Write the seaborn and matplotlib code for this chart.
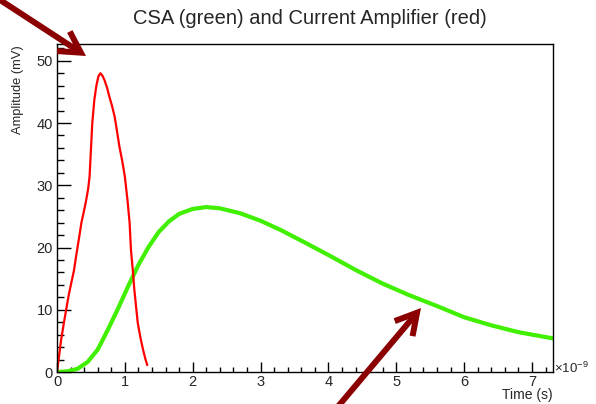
import matplotlib
matplotlib.use("Agg")
import matplotlib.pyplot as plt
from matplotlib.patches import FancyArrowPatch
from matplotlib.ticker import MultipleLocator
import seaborn as sns
import pandas as pd

# Current amplifier response (time in ns, amplitude in mV)
current_time_ns = [0, 0.03, 0.06, 0.10, 0.135, 0.17, 0.21, 0.25, 0.28, 0.32, 0.36, 0.40,
                   0.43, 0.46, 0.48, 0.50, 0.52, 0.55, 0.58, 0.61, 0.64, 0.67, 0.70,
                   0.74, 0.77, 0.81, 0.85, 0.88, 0.92, 0.96, 1.00, 1.04, 1.07, 1.09,
                   1.12, 1.14, 1.17, 1.19, 1.23, 1.27, 1.30, 1.33]
current_amp_mv = [0, 2.5, 5.1, 7.8, 10.0, 12.2, 14.3, 16.3, 18.5, 21.2, 24.0, 26.0,
                  27.6, 29.5, 31.4, 35.7, 40.0, 43.7, 46.0, 47.5, 48.0, 47.6, 46.9,
                  45.6, 44.3, 42.8, 41.0, 39.0, 36.2, 34.0, 31.4, 27.5, 24.0, 19.6,
                  16.0, 13.2, 10.0, 7.9, 5.5, 3.5, 2.2, 1.1]

# Charge-sensitive amplifier response
csa_time_ns = [0, 0.15, 0.30, 0.45, 0.60, 0.75, 0.90, 1.05, 1.20, 1.35, 1.50, 1.65,
               1.80, 2.00, 2.20, 2.40, 2.70, 3.00, 3.30, 3.60, 4.00, 4.40, 4.80,
               5.20, 5.60, 6.00, 6.40, 6.80, 7.31]
csa_amp_mv = [0, 0.1, 0.5, 1.6, 3.6, 6.8, 10.2, 13.8, 17.2, 20.1, 22.5, 24.2,
              25.4, 26.2, 26.5, 26.3, 25.5, 24.3, 22.8, 21.1, 18.8, 16.4, 14.2,
              12.3, 10.6, 8.8, 7.5, 6.4, 5.4]

title = "CSA (green) and Current Amplifier (red)"
x_label = "Time (s)"
y_label = "Amplitude (mV)"

sns.set_style("white")
plt.rcParams["font.family"] = ["Liberation Sans", "DejaVu Sans"]
plt.rcParams["mathtext.fontset"] = "custom"
plt.rcParams["mathtext.rm"] = "Liberation Sans"
plt.rcParams["mathtext.it"] = "Liberation Sans:italic"

W, H = 596, 404
fig = plt.figure(figsize=(W / 100, H / 100), dpi=100)
ax = fig.add_axes([57 / W, 1 - 372 / H, 496 / W, 328 / H])

csa = pd.DataFrame({"t": csa_time_ns, "a": csa_amp_mv})
cur = pd.DataFrame({"t": current_time_ns, "a": current_amp_mv})
sns.lineplot(data=csa, x="t", y="a", ax=ax, color="#40f000", lw=3.0, sort=False)
sns.lineplot(data=cur, x="t", y="a", ax=ax, color="#ff0000", lw=1.6, sort=False)

ax.set_xlim(0, 7.31)
ax.set_ylim(0, 52.7)
ax.set_xlabel("")
ax.set_ylabel("")

ax.xaxis.set_major_locator(MultipleLocator(1))
ax.xaxis.set_minor_locator(MultipleLocator(0.2))
ax.yaxis.set_major_locator(MultipleLocator(10))
ax.yaxis.set_minor_locator(MultipleLocator(2))
ax.tick_params(axis="x", which="major", direction="in", length=7.5, width=1,
               labelsize=10.5, pad=2, bottom=True, top=False, color="black")
ax.tick_params(axis="x", which="minor", direction="in", length=3.8, width=1,
               bottom=True, top=False, color="black")
ax.tick_params(axis="y", which="major", direction="in", length=10, width=1,
               labelsize=10.5, pad=3, left=True, right=False, color="black")
ax.tick_params(axis="y", which="minor", direction="in", length=5, width=1,
               left=True, right=False, color="black")
for s in ax.spines.values():
    s.set_visible(True)
    s.set_color("black")
    s.set_linewidth(1.0)

fig.text(310 / W, 1 - 18 / H, title, ha="center", va="center", fontsize=14.5)
fig.text(18 / W, 1 - 45 / H, y_label, rotation=90, ha="center", va="top", fontsize=9.3)
fig.text(553 / W, 1 - 395 / H, x_label, ha="right", va="center", fontsize=10)
fig.text(554 / W, 1 - 368 / H, r"$\times10^{-9}$", ha="left", va="center", fontsize=9.5)

# Pointer arrows
arrow_color = "#8b0000"
for (x0, y0), (x1, y1) in [((-6, -4), (86, 56)), ((330, 416), (421, 308))]:
    fig.add_artist(FancyArrowPatch(
        (x0 / W, 1 - y0 / H), (x1 / W, 1 - y1 / H), transform=fig.transFigure,
        arrowstyle="->,head_length=0.75,head_width=0.42", mutation_scale=20,
        shrinkA=0, shrinkB=0,
        color=arrow_color, lw=4.3, capstyle="butt", joinstyle="miter"))

fig.savefig("out.png", dpi=100)
